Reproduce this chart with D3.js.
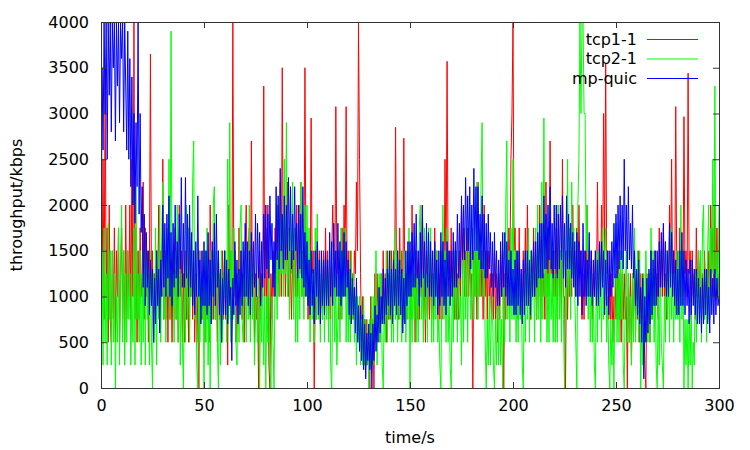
<!DOCTYPE html>
<meta charset="utf-8">
<style>
  body { margin: 0; background: #fff; }
  text { font-family: "DejaVu Sans", sans-serif; font-size: 16px; fill: #000; }
</style>
<div id="chart"></div>
<script src="https://cdn.jsdelivr.net/npm/d3@7"></script>
<script>
// throughput in kbps; one sample every 0.5 s, 10 s per row
const tcp1 = [
  4000, 1000, 2500, 750, 3500, 1000, 1750, 500, 2000, 750, 500, 1500, 750, 1750, 500, 1500, 1000, 1750, 500, 1250,
  1750, 750, 1500, 500, 2000, 750, 1500, 1000, 2000, 750, 2500, 1000, 4000, 750, 1750, 500, 1500, 750, 1750, 1000,
  1250, 2250, 750, 1750, 1000, 1500, 500, 1250, 3650, 1000, 1500, 500, 1250, 750, 1500, 1000, 2000, 750, 1500, 1000,
  2500, 750, 1500, 750, 1500, 500, 1750, 750, 1250, 500, 1500, 1000, 1750, 750, 1500, 500, 2000, 1000, 1500, 500,
  1250, 500, 1500, 750, 1250, 500, 1750, 1000, 1500, 750, 1500, 500, 1250, 500, 1000, 0, 1500, 750, 1250, 750,
  1250, 500, 1500, 750, 1250, 500, 2000, 1000, 1500, 750, 1500, 750, 1250, 500, 1500, 750, 1250, 500, 1500, 750,
  1500, 750, 1250, 250, 2000, 1000, 1500, 750, 4000, 1000, 1500, 500, 1250, 750, 1750, 1000, 1500, 750, 1250, 500,
  1500, 2000, 1000, 1500, 1750, 750, 2700, 1000, 1500, 500, 1250, 750, 1000, 0, 1500, 750, 1250, 1000, 3300, 1000,
  1750, 750, 2000, 250, 0, 1250, 750, 1500, 1000, 1750, 1250, 2000, 1500, 1000, 2250, 1000, 3500, 1250, 1750, 1000,
  1500, 2250, 1000, 1750, 1250, 750, 1500, 1000, 1750, 1000, 2000, 1000, 2000, 1250, 2250, 1000, 1500, 1000, 3500, 1250,
  1500, 750, 1250, 750, 2950, 1250, 1500, 0, 1000, 750, 1750, 1000, 1500, 750, 1250, 750, 1500, 1000, 1750, 1000,
  1500, 750, 1250, 750, 1500, 2000, 1250, 1000, 3075, 1250, 1500, 750, 1250, 750, 1750, 1000, 2000, 1250, 3075, 1000,
  1500, 750, 1500, 750, 1250, 750, 1500, 1250, 2250, 1500, 4000, 2500, 1250, 500, 1000, 250, 750, 250, 750, 250,
  500, 0, 1000, 250, 750, 0, 1250, 500, 1250, 750, 1000, 500, 1250, 750, 1500, 750, 1250, 500, 1500, 750,
  1250, 750, 1500, 750, 1500, 1000, 2850, 1000, 1500, 750, 1750, 1000, 1500, 750, 2730, 1000, 1250, 750, 1500, 1000,
  1500, 750, 2000, 1000, 1250, 500, 1500, 750, 1250, 750, 1500, 1000, 2000, 750, 1250, 500, 1500, 750, 1250, 750,
  1500, 750, 1250, 750, 1750, 1000, 1500, 750, 1250, 750, 1500, 750, 1500, 1000, 2500, 1250, 3570, 1250, 1500, 1000,
  1750, 1000, 1500, 750, 1500, 750, 1250, 750, 1500, 1000, 2000, 1250, 1750, 1000, 1500, 1000, 1750, 1000, 1500, 1000,
  1250, 0, 1500, 1000, 1500, 750, 2250, 1000, 1500, 1000, 1500, 750, 2000, 1000, 1500, 750, 1500, 1000, 1250, 750,
  1250, 750, 1500, 750, 1250, 500, 1250, 750, 1500, 1000, 1500, 0, 1250, 750, 1500, 1000, 1750, 1250, 2500, 3000,
  4000, 1500, 1750, 1000, 1500, 750, 1750, 1000, 1250, 750, 1500, 1000, 1750, 1000, 2000, 1000, 1250, 750, 1500, 1000,
  1750, 1000, 1250, 750, 1500, 1000, 2000, 750, 1500, 1000, 1250, 750, 2250, 1000, 1750, 1000, 2700, 1250, 1500, 1000,
  1500, 1000, 1750, 750, 2000, 1000, 1500, 750, 2500, 1000, 1000, 0, 1500, 750, 1500, 1000, 1500, 1000, 2000, 1250,
  1500, 1000, 1750, 1000, 2000, 1250, 1500, 750, 1250, 750, 1500, 1000, 2000, 1250, 1500, 1000, 1500, 750, 1250, 1000,
  1500, 1000, 2250, 1000, 1500, 1000, 2000, 1250, 3000, 1500, 3550, 1250, 1500, 750, 1250, 750, 1250, 500, 1000, 750,
  1250, 750, 1500, 750, 1250, 500, 1250, 750, 1250, 750, 1000, 0, 1250, 500, 1250, 250, 1250, 750, 1250, 750,
  1250, 750, 1500, 500, 1250, 750, 1250, 750, 250, 0, 1250, 750, 1250, 500, 1500, 750, 1250, 1000, 1500, 1000,
  1250, 750, 1750, 1000, 1500, 1000, 1750, 1000, 1250, 750, 1500, 1000, 2000, 1250, 2500, 1000, 1500, 1000, 3075, 1250,
  1500, 1000, 1750, 1000, 1500, 1000, 2965, 1250, 1500, 1000, 3440, 1250, 1500, 750, 1500, 1000, 1250, 750, 1750, 1000,
  1500, 1000, 1500, 750, 1250, 750, 1500, 1000, 1250, 750, 1500, 1000, 2000, 1250, 1750, 1000, 2000, 1250, 1750, 1000,
  1250
];

const tcp2 = [
  0, 1500, 250, 1750, 500, 1250, 250, 1800, 750, 1500, 250, 1500, 500, 1250, 0, 1000, 500, 1750, 250, 1250,
  2000, 500, 1500, 250, 1250, 500, 1500, 750, 1250, 250, 1000, 500, 1750, 250, 2200, 750, 1250, 500, 1500, 250,
  1250, 500, 1750, 250, 1500, 750, 1250, 250, 1500, 500, 0, 1250, 500, 1750, 250, 1500, 750, 2000, 500, 1500,
  2250, 750, 1500, 500, 1750, 1000, 2500, 750, 3900, 1000, 1250, 500, 1500, 750, 2000, 500, 1750, 250, 1250, 500,
  0, 1250, 500, 2000, 750, 1750, 500, 1500, 1000, 2250, 2700, 750, 1250, 250, 0, 1500, 500, 1250, 750, 1500,
  0, 1500, 500, 1750, 250, 1250, 0, 1500, 750, 2000, 2200, 750, 1500, 500, 0, 1250, 250, 1500, 500, 1250,
  1000, 1500, 500, 2500, 750, 2900, 500, 1500, 750, 1750, 1250, 500, 250, 1250, 500, 1750, 2000, 750, 500, 1500,
  1250, 500, 1500, 750, 2000, 500, 1250, 750, 1500, 250, 750, 1250, 500, 1250, 0, 1000, 500, 1250, 250, 1000,
  0, 1000, 500, 1500, 250, 0, 1000, 500, 0, 1250, 1500, 750, 2000, 1000, 2250, 1250, 1750, 1000, 2500, 1250,
  2900, 1000, 1750, 750, 2000, 1250, 2250, 750, 1750, 500, 1250, 500, 1750, 750, 2250, 1000, 1500, 750, 2000, 1000,
  2000, 1000, 1750, 500, 1500, 750, 1250, 500, 1750, 750, 1900, 750, 1250, 500, 1500, 750, 1250, 500, 1500, 750,
  1250, 500, 1500, 250, 0, 1000, 1500, 500, 1250, 250, 750, 1500, 500, 1750, 750, 1500, 1000, 1750, 500, 1250,
  500, 1250, 500, 1500, 750, 1250, 500, 1000, 250, 1000, 500, 1000, 250, 750, 250, 1000, 250, 750, 250, 500,
  0, 750, 250, 1000, 250, 1000, 500, 1500, 250, 750, 1250, 500, 1250, 250, 0, 1000, 500, 1500, 500, 1250,
  750, 1500, 500, 1250, 500, 1750, 750, 1500, 500, 1250, 750, 1500, 500, 1250, 750, 1500, 500, 1250, 750, 1750,
  0, 1500, 500, 1250, 750, 1500, 500, 1250, 500, 1750, 2000, 750, 1250, 500, 1750, 750, 1250, 500, 1750, 1000,
  1750, 500, 1250, 500, 1500, 750, 1500, 500, 750, 250, 0, 1250, 2000, 750, 1500, 500, 1750, 500, 1000, 250,
  0, 1250, 500, 1500, 750, 1500, 500, 1250, 750, 1000, 250, 1500, 500, 1750, 750, 1500, 500, 1500, 2000, 750,
  1000, 1750, 750, 1500, 1000, 2250, 750, 1750, 1000, 2250, 2900, 1000, 1500, 500, 0, 750, 250, 1000, 250, 750,
  1000, 250, 0, 750, 250, 1000, 250, 1250, 250, 750, 0, 1250, 500, 2000, 2700, 750, 1500, 500, 1750, 750,
  2500, 750, 1500, 500, 1250, 500, 1500, 750, 1250, 250, 0, 1250, 500, 1500, 750, 1750, 500, 1500, 750, 1250,
  1250, 500, 1750, 750, 2000, 750, 1500, 500, 2250, 750, 2950, 1000, 1750, 500, 1250, 500, 2000, 750, 1250, 500,
  1500, 500, 1250, 500, 2000, 750, 1500, 500, 1750, 750, 0, 1500, 750, 2500, 1000, 1750, 750, 2250, 1250, 1750,
  1000, 500, 0, 2000, 2500, 4000, 3000, 4000, 4000, 3000, 3000, 1500, 2000, 750, 1500, 500, 1250, 500, 1000, 250,
  0, 1500, 500, 1500, 750, 1250, 500, 1750, 750, 1500, 1750, 500, 1000, 250, 0, 750, 250, 750, 0, 1250,
  1800, 500, 1250, 500, 1500, 750, 1500, 250, 0, 1000, 1500, 500, 1250, 500, 1000, 250, 1250, 500, 1750, 500,
  1000, 1500, 500, 1500, 0, 750, 250, 1250, 500, 1500, 1000, 500, 1250, 500, 1750, 750, 1500, 500, 1250, 250,
  0, 1000, 250, 1500, 500, 250, 0, 1000, 500, 1500, 750, 1250, 500, 1750, 750, 1250, 500, 1250, 750, 1500,
  750, 1500, 500, 2000, 750, 1500, 0, 750, 250, 750, 0, 750, 250, 1000, 0, 500, 250, 1250, 500, 1000,
  1500, 750, 1500, 500, 1750, 2000, 750, 1250, 500, 1500, 2000, 750, 1750, 1000, 2500, 1250, 3300, 1000, 1500, 1000,
  2000
];

const mpquic = [
  200, 3500, 2600, 4000, 3000, 4000, 2500, 4000, 3200, 4000, 2800, 4000, 3500, 4000, 2700, 4000, 3300, 4000, 2900, 4000,
  3600, 4000, 2800, 4000, 3300, 2600, 3900, 2500, 3600, 2200, 3400, 2000, 3000, 1800, 2900, 2200, 4000, 1900, 3000, 1700,
  2200, 1100, 1900, 900, 1700, 1100, 1500, 800, 1400, 900, 1300, 500, 1200, 700, 1500, 900, 1300, 600, 1400, 1000,
  2000, 1100, 1800, 1000, 1900, 1200, 2100, 1000, 1700, 900, 1800, 1100, 2000, 1200, 1600, 1000, 1900, 1300, 2300, 1100,
  1800, 1100, 2300, 1200, 1900, 1000, 2000, 1100, 1700, 900, 1500, 800, 1600, 1000, 2100, 1000, 1400, 700, 1500, 900,
  1600, 900, 1500, 800, 1700, 900, 1400, 700, 1600, 1000, 1800, 900, 1900, 1100, 1500, 800, 1300, 500, 1200, 800,
  1500, 800, 1400, 700, 1300, 900, 1100, 300, 1200, 800, 1600, 900, 1400, 700, 1300, 800, 1500, 900, 1600, 1000,
  1800, 1000, 1600, 900, 1500, 800, 1700, 1000, 1600, 1100, 1900, 1000, 1800, 1200, 1700, 900, 1600, 1100, 1900, 1200,
  2000, 1300, 1900, 1200, 2100, 1400, 1800, 1100, 1600, 1000, 2200, 1400, 2100, 1300, 2400, 1500, 1900, 1300, 2100, 1400,
  2000, 1400, 2300, 1500, 2200, 1300, 1900, 1400, 2200, 1500, 1800, 1200, 2000, 1300, 1900, 1200, 2200, 1100, 1700, 1000,
  1600, 900, 1400, 800, 1500, 900, 1300, 700, 1500, 1000, 1600, 800, 1400, 700, 1500, 900, 1400, 800, 1500, 900,
  1400, 900, 1700, 1000, 1600, 900, 1800, 1100, 1500, 1000, 1800, 1000, 1600, 900, 1500, 1000, 1700, 1000, 1600, 1100,
  1400, 800, 1300, 700, 1200, 800, 1100, 600, 1200, 500, 900, 400, 900, 300, 800, 200, 700, 100, 600, 300,
  700, 200, 600, 0, 700, 300, 900, 400, 800, 500, 1100, 600, 1000, 700, 1300, 700, 1200, 800, 1300, 900,
  1500, 800, 1300, 700, 1400, 900, 1300, 800, 1500, 900, 1400, 800, 1300, 600, 1200, 700, 1500, 900, 1600, 1000,
  1600, 1000, 1700, 1100, 1800, 1100, 1900, 1200, 1500, 900, 1700, 1100, 2000, 1200, 1600, 1000, 1800, 1100, 1700, 1000,
  1600, 1000, 1500, 900, 1600, 1000, 1400, 800, 1500, 900, 1700, 1000, 1600, 900, 1400, 800, 1600, 1000, 1500, 900,
  1500, 1000, 1700, 1100, 1600, 1100, 1900, 1200, 1800, 1200, 2100, 1400, 2000, 1400, 2300, 1500, 2100, 1500, 2200, 1300,
  2000, 1400, 2400, 1500, 2200, 1500, 2200, 1400, 1900, 1300, 2100, 1300, 1900, 1200, 1800, 1200, 1900, 1300, 1700, 1100,
  1600, 1000, 1700, 1100, 1500, 900, 1400, 900, 1600, 1000, 1700, 1100, 1700, 1000, 1600, 900, 1400, 900, 1500, 900,
  1300, 800, 1400, 800, 1500, 900, 1500, 800, 1300, 700, 1400, 800, 1500, 900, 1500, 900, 1400, 800, 1500, 1000,
  1600, 1000, 1600, 1100, 1700, 1200, 1800, 1200, 1800, 1200, 2100, 1300, 1900, 1300, 2000, 1400, 2200, 1300, 1800, 1200,
  2000, 1300, 2000, 1200, 1900, 1300, 2000, 1400, 2100, 1200, 1800, 1100, 2100, 1300, 1900, 1300, 1800, 1200, 1700, 1100,
  1600, 1000, 1700, 900, 1600, 1000, 1500, 800, 1800, 1000, 1500, 900, 1400, 1000, 1700, 1000, 1500, 900, 1400, 1000,
  1500, 900, 1400, 900, 1600, 1000, 1600, 1100, 1500, 800, 1400, 900, 1500, 800, 1500, 1000, 1600, 1100, 1800, 1200,
  1900, 1200, 2000, 1300, 2100, 1400, 2000, 1300, 2500, 1500, 2000, 1300, 2200, 1400, 1800, 1300, 2000, 1200, 1500, 900,
  1300, 800, 1400, 700, 1100, 500, 1200, 100, 1000, 500, 1200, 600, 1300, 700, 1500, 800, 1400, 900, 1500, 900,
  1500, 1000, 1600, 1100, 1700, 1100, 1800, 1100, 1600, 1000, 1500, 1000, 1800, 1100, 1700, 1000, 1500, 900, 1400, 800,
  1300, 800, 1500, 900, 1700, 900, 1500, 800, 1400, 900, 1300, 700, 1400, 800, 1400, 900, 1300, 800, 1300, 700,
  1200, 700, 1100, 600, 1200, 700, 1300, 800, 1300, 700, 1100, 600, 1300, 800, 1200, 700, 1300, 800, 1200, 900,
  1000
];

const seriesNames = ["tcp1-1", "tcp2-1", "mp-quic"];
const seriesColors = ["#ff0000", "#00ff00", "#0000ff"];
const xTicks = [0, 50, 100, 150, 200, 250, 300];
const yTicks = [0, 500, 1000, 1500, 2000, 2500, 3000, 3500, 4000];
const sampleStep = 0.5; // seconds between samples

const width = 750, height = 450;
const margin = { left: 101, right: 31, top: 22, bottom: 62 };

const svg = d3.select("#chart").append("svg")
  .attr("width", width)
  .attr("height", height);

const x = d3.scaleLinear().domain([0, 300]).range([margin.left, width - margin.right]);
const y = d3.scaleLinear().domain([0, 4000]).range([height - margin.bottom, margin.top]);

svg.append("clipPath").attr("id", "clip")
  .append("rect")
  .attr("x", x(0)).attr("y", y(4000))
  .attr("width", x(300) - x(0)).attr("height", y(0) - y(4000));

// lines, tcp1 first so mp-quic sits on top
const allSeries = [tcp1, tcp2, mpquic];
const line = d3.line().x((d, i) => x(i * sampleStep)).y(d => y(d));

svg.append("g").attr("clip-path", "url(#clip)")
  .selectAll("path")
  .data(allSeries)
  .join("path")
  .attr("d", d => line(d))
  .attr("fill", "none")
  .attr("stroke", (d, i) => seriesColors[i])
  .attr("stroke-width", 1);

// axes, ticks drawn inward and mirrored like gnuplot
const tickLen = 6;
const axisColor = "#333";
const fmt = d3.format("d");

svg.append("g")
  .attr("transform", `translate(0,${y(0)})`)
  .call(d3.axisBottom(x).tickValues(xTicks).tickSize(-tickLen).tickPadding(12).tickFormat(fmt))
  .call(g => g.select(".domain").remove());
svg.append("g")
  .attr("transform", `translate(0,${y(4000)})`)
  .call(d3.axisTop(x).tickValues(xTicks).tickSize(-tickLen).tickFormat(""))
  .call(g => g.select(".domain").remove());
svg.append("g")
  .attr("transform", `translate(${x(0)},0)`)
  .call(d3.axisLeft(y).tickValues(yTicks).tickSize(-tickLen).tickPadding(12).tickFormat(fmt))
  .call(g => g.select(".domain").remove());
svg.append("g")
  .attr("transform", `translate(${x(300)},0)`)
  .call(d3.axisRight(y).tickValues(yTicks).tickSize(-tickLen).tickFormat(""))
  .call(g => g.select(".domain").remove());

svg.selectAll(".tick line").attr("stroke", axisColor);
svg.selectAll(".tick text")
  .style("font-family", "'DejaVu Sans', sans-serif")
  .style("font-size", "16px")
  .attr("fill", "#000");

svg.append("rect")
  .attr("x", x(0) + 0.5).attr("y", y(4000) + 0.5)
  .attr("width", x(300) - x(0)).attr("height", y(0) - y(4000))
  .attr("fill", "none")
  .attr("stroke", axisColor);

// axis titles
svg.append("text")
  .attr("x", (x(0) + x(300)) / 2)
  .attr("y", 443)
  .attr("text-anchor", "middle")
  .text("time/s");

svg.append("text")
  .attr("transform", `translate(22,${(y(0) + y(4000)) / 2}) rotate(-90)`)
  .attr("text-anchor", "middle")
  .text("throughput/kbps");

// legend
const legend = svg.append("g")
  .selectAll("g")
  .data(seriesNames)
  .join("g")
  .attr("transform", (d, i) => `translate(0,${39 + i * 19.5})`);

legend.append("text")
  .attr("x", 637)
  .attr("dy", "0.35em")
  .attr("text-anchor", "end")
  .text(d => d);

legend.append("line")
  .attr("x1", 647).attr("x2", 698)
  .attr("y1", 0.5).attr("y2", 0.5)
  .attr("stroke", d => seriesColors[seriesNames.indexOf(d)]);
</script>
